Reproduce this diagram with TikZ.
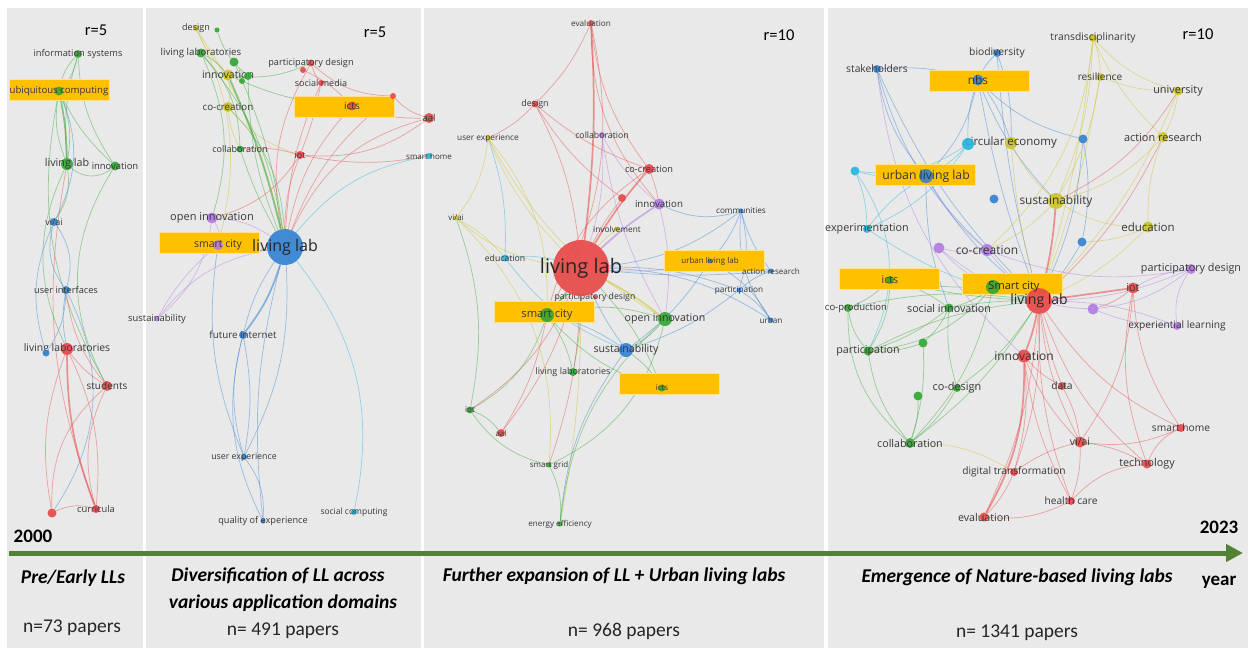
\documentclass[tikz,border=0pt]{standalone}
\usepackage{fontspec}
\setmainfont{Carlito}
\newfontfamily\kwfont{Open Sans}
\usetikzlibrary{arrows.meta}

\definecolor{panelgrey}{RGB}{233,233,233}
\definecolor{hlorange}{RGB}{255,192,0}
\definecolor{hledge}{RGB}{255,226,140}
\definecolor{tlgreen}{RGB}{84,130,53}
\definecolor{kwtext}{RGB}{55,55,55}
\definecolor{vred}{RGB}{232,70,70}
\definecolor{vgreen}{RGB}{50,165,50}
\definecolor{vblue}{RGB}{50,128,210}
\definecolor{vyellow}{RGB}{205,195,35}
\definecolor{vpurple}{RGB}{178,122,225}
\definecolor{vcyan}{RGB}{35,180,222}

\pgfdeclarelayer{panels}
\pgfdeclarelayer{edges}
\pgfdeclarelayer{boxes}
\pgfsetlayers{panels,edges,boxes,main}

\begin{document}
\begin{tikzpicture}[x=1pt, y=-1pt,
    kw/.style={circle, inner sep=0pt, minimum size=#1pt, fill opacity=.9},
    lbl/.style={font=\kwfont\fontsize{#1}{#1}\selectfont, text=kwtext, inner sep=0pt,
      fill=none, draw=none, fill opacity=1},
    kwedge/.style={draw=#1, draw opacity=.45, line width=.7pt},
    kwheavy/.style={draw=#1, draw opacity=.55, line width=1.7pt},
    hlbox/.style={fill=hlorange, draw=hledge, line width=1pt, minimum width=100pt,
      minimum height=21pt, inner sep=0pt},
    heading/.style={font=\bfseries\itshape\fontsize{19.5}{22}\selectfont, inner sep=0pt},
    papers/.style={font=\fontsize{19.5}{22}\selectfont, text=black!85, inner sep=0pt},
    yearlbl/.style={font=\bfseries\fontsize{19}{22}\selectfont, inner sep=0pt},
    rlbl/.style={font=\fontsize{16.5}{19}\selectfont, inner sep=0pt}]
  \useasboundingbox (0,0) rectangle (1258,649);
  % Panels
  \begin{pgfonlayer}{panels}
    \fill[panelgrey] (7,8) rectangle (143,648);
    \fill[panelgrey] (146,8) rectangle (421,648);
    \fill[panelgrey] (424,8) rectangle (824,648);
    \fill[panelgrey] (828,8) rectangle (1248,648);
  \end{pgfonlayer}
  % Highlighted keywords
  \begin{pgfonlayer}{boxes}
    \foreach \nm/\x/\y in {hlubi/59/89.5, hlicts/344.5/107, hlsc/209/243,
        hlulab/714/260.5, hlsc3/544.5/312, hlicts3/669/384,
        hlnbs/979.5/80.5, hlulab4/925.5/175, hlicts4/889/278.5, hlsc4/1012.5/283.5}
      \node[hlbox] (\nm) at (\x,\y) {};
  \end{pgfonlayer}
  % Keywords: name/x/y/size/colour/font/label
  \foreach \nm/\x/\y/\dia/\col/\fs/\txt in {
      p1info/78/54/8/vgreen/9.3/information systems,
      p1ubi/59/91/9/vgreen/9.6/ubiquitous computing,
      p1ll/67/164/12/vgreen/10.8/living lab,
      p1inn/115/166/9/vgreen/9.4/innovation,
      p1viai/54/222/8/vblue/9/vi\slash ai,
      p1ui/66/290/8/vblue/9.2/user interfaces,
      p1llr/67/349/12/vred/10.4/living laboratories,
      p1stu/107/386/10/vred/10/students,
      p1cur/96/509/8/vred/9.3/curricula,
      % 2nd period
      p2des/196/28/6/vyellow/9/design,
      p2lls/201/53/9/vgreen/9.7/living laboratories,
      p2inn/228/75/11/vyellow/10.5/innovation,
      p2pd/311/63/7/vred/9.2/participatory design,
      p2sm/321/83/6/vred/9/social media,
      p2icts/352/106/9/vred/10/icts,
      p2aal/429/118/10/vred/9.5/aal,
      p2sh/429/156/6/vcyan/8/smart home,
      p2cc/228/107/10/vyellow/9.7/co-creation,
      p2col/240/149/7/vgreen/9/collaboration,
      p2iot/300/155/8/vred/9/iot,
      p2oi/212/218/11/vpurple/11/open innovation,
      p2sc/218/245/10/vpurple/10.5/smart city,
      p2sus/157/319/5/vpurple/9.4/sustainability,
      p2fi/243/335/8/vblue/9.8/future internet,
      p2ue/244/457/6/vblue/8.8/user experience,
      p2qoe/263/521/5/vblue/9.2/quality of experience,
      p2scomp/354/512/6/vcyan/8.5/social computing,
      % 3rd period
      p3eval/591/23/6/vred/8.2/evaluation,
      p3des/535/104/7/vred/8.9/design,
      p3ue/488/138/6/vyellow/8.3/user experience,
      p3col/602/135/6/vpurple/8.7/collaboration,
      p3cc/649/169/10/vred/9.2/co-creation,
      p3inn/659/204/11/vpurple/9.7/innovation,
      p3com/741/211/5/vblue/8.2/communities,
      p3viai/456/218/5/vyellow/8/vi\slash ai,
      p3inv/617/229/5/vyellow/8.3/involvement,
      p3edu/505/258/7/vcyan/8.7/education,
      p3ulab/710/261/5/vblue/8/urban living lab,
      p3ar/771/271/5/vblue/8.1/action research,
      p3par/739/290/5/vblue/8.2/participation,
      p3urb/771/320/5/vblue/8.2/urban,
      p3pd/595/297/4/vred/8.7/participatory design,
      p3sc/547/315/14/vgreen/11.2/smart city,
      p3oi/665/319/14/vgreen/10.6/open innovation,
      p3sus/626/350/14/vblue/10.6/sustainability,
      p3lls/573/372/8/vgreen/9/living laboratories,
      p3icts/662/388/7/vgreen/8/icts,
      p3iot/470/410/7/vgreen/8/iot,
      p3aal/501/433/8/vred/8/aal,
      p3sg/549/465/5/vgreen/8/smart grid,
      p3ee/560/524/5/vgreen/8.1/energy efficiency,
      % 4th period
      p4trans/1093/38/8/vyellow/10.3/transdisciplinarity,
      p4bio/997/53/8/vblue/10.3/biodiversity,
      p4stake/877/69/8/vblue/10.3/stakeholders,
      p4nbs/978/80/11/vblue/11.8/nbs,
      p4res/1100/77/8/vyellow/10.1/resilience,
      p4uni/1178/91/9/vyellow/10.9/university,
      p4ar/1163/137/10/vyellow/10.9/action research,
      p4ce/1011/143/12/vyellow/11.5/circular economy,
      p4ulab/926/176/14/vblue/12.2/urban living lab,
      p4sus/1056/201/16/vyellow/11.9/sustainability,
      p4exp/867/229/8/vcyan/10.8/experimentation,
      p4edu/1148/227/11/vyellow/11.5/education,
      p4cc/987/250/12/vpurple/12/co-creation,
      p4icts/890/280/8/vgreen/10.6/icts,
      p4pd/1191/269/10/vpurple/10.8/participatory design,
      p4iot/1133/288/11/vred/10.8/iot,
      p4si/949/308/9/vgreen/10.7/social innovation,
      p4el/1177/326/8/vpurple/10.2/experiential learning,
      p4par/868/351/9/vgreen/10.7/participation,
      p4inn/1024/356/13/vred/12/innovation,
      p4data/1062/386/8/vred/10.3/data,
      p4cod/957/388/8/vgreen/10.9/co-design,
      p4col/910/443/10/vgreen/10.7/collaboration,
      p4viai/1080/442/11/vred/10.5/vi\slash ai,
      p4sh/1181/428/8/vred/10.2/smart home,
      p4tech/1147/464/9/vred/10.8/technology,
      p4dt/1014/472/8/vred/10.2/digital transformation,
      p4hc/1071/501/8/vred/10.2/health care,
      p4eval/984/517/9/vred/10.7/evaluation}
    \node[kw=\dia, fill=\col, label={[lbl=\fs]center:\txt}] (\nm) at (\x,\y) {};
  % Unlabelled keywords
  \foreach \nm/\x/\y/\dia/\col in {p1llb/46/353/7/vblue, p1red/52/513/9/vred,
      p2desg/217/30/5/vgreen, p2g1/234/62/9/vgreen, p2g2/248/76/8/vgreen,
      p2g3/242/81/6/vgreen, p2red1/303/70/6/vred, p2red2/393/96/6/vred,
      p3red1/622/198/8/vred,
      p4b1/1083/139/9/vblue, p4cyan/968/144/12/vcyan, p4c2/855/171/9/vcyan,
      p4b2/994/199/9/vblue, p4b3/1082/242/9/vblue, p4pu1/939/248/11/vpurple,
      p4pu2/1093/309/11/vpurple, p4g1/923/343/9/vgreen, p4g2/918/396/9/vgreen}
    \node[kw=\dia, fill=\col] (\nm) at (\x,\y) {};
  % Central keywords
  \node[kw=36, fill=vblue, label={[lbl=16, text=black!85]center:living lab}] (p2ll) at (285,247) {};
  \node[kw=56, fill=vred, label={[lbl=20, text=black!85]center:living lab}] (p3ll) at (581,268) {};
  \node[kw=26, fill=vred, label={[lbl=14, text=black!85]center:living lab}] (p4ll) at (1039,301) {};
  \node[kw=14, fill=vgreen, label={[lbl=11, text=black!85, xshift=21pt]center:Smart city}] (p4sc) at (993,287) {};
  \node[kw=8, fill=vgreen, label={[lbl=9.5, xshift=8pt]center:co-production}] (p4cop) at (848,308) {};
  % Links
  \begin{pgfonlayer}{edges}
    \foreach \src/\dst/\col/\bd in {
        p1info/p1ubi/vgreen/15, p1info/p1ubi/vgreen/-15, p1info/p1ll/vgreen/-10,
        p1info/p1inn/vgreen/-15, p1ubi/p1ll/vgreen/15, p1ubi/p1ll/vgreen/-15,
        p1ubi/p1inn/vgreen/-10, p1ubi/p1stu/vgreen/-20, p1ll/p1inn/vgreen/-40,
        p1ll/p1viai/vgreen/20, p1ll/p1llr/vgreen/-25, p1ll/p1cur/vred/-15,
        p1inn/p1stu/vgreen/-30, p1ubi/p1viai/vblue/25, p1viai/p1ui/vblue/25,
        p1viai/p1ui/vblue/-25, p1viai/p1llb/vblue/-20, p1ui/p1llb/vblue/15,
        p1ui/p1llr/vblue/-10, p1ui/p1red/vblue/30, p1llr/p1stu/vred/-10,
        p1llr/p1cur/vred/15, p1llr/p1red/vred/-15, p1stu/p1cur/vred/-20,
        p1stu/p1red/vred/-25, p1red/p1cur/vred/20, p1ui/p1stu/vred/-15,
        % 2nd period
        p2ll/p2des/vyellow/-10, p2ll/p2lls/vgreen/-15, p2ll/p2g1/vgreen/-8,
        p2ll/p2g2/vgreen/10, p2ll/p2cc/vgreen/-20, p2ll/p2col/vgreen/5,
        p2ll/p2iot/vred/10, p2ll/p2icts/vred/15, p2ll/p2pd/vred/20,
        p2ll/p2sm/vred/10, p2ll/p2aal/vred/25, p2ll/p2red2/vred/15,
        p2ll/p2sh/vcyan/20, p2ll/p2oi/vpurple/-15, p2ll/p2sus/vpurple/-20,
        p2ll/p2fi/vblue/-10, p2ll/p2ue/vblue/15, p2ll/p2qoe/vblue/-10,
        p2ll/p2scomp/vcyan/25, p2des/p2inn/vyellow/-10, p2lls/p2inn/vgreen/10,
        p2desg/p2g2/vgreen/-15, p2lls/p2col/vgreen/20, p2inn/p2cc/vyellow/10,
        p2inn/p2pd/vgreen/-15, p2inn/p2icts/vgreen/-10, p2cc/p2col/vyellow/-10,
        p2cc/p2iot/vyellow/-15, p2col/p2iot/vred/10, p2pd/p2sm/vred/-10,
        p2pd/p2red2/vred/-20, p2red1/p2icts/vred/10, p2icts/p2aal/vred/-10,
        p2red2/p2aal/vred/-15, p2iot/p2aal/vred/-20, p2sm/p2iot/vred/5,
        p2iot/p2sh/vred/-10, p2oi/p2sc/vpurple/20, p2oi/p2sus/vpurple/20,
        p2sc/p2sus/vpurple/-10, p2oi/p2lls/vgreen/-20, p2oi/p2iot/vred/-20,
        p2fi/p2ue/vblue/10, p2fi/p2ue/vblue/-15, p2fi/p2qoe/vblue/-20,
        p2ue/p2qoe/vblue/20, p2sc/p2ue/vblue/-15, p2des/p2sc/vyellow/20,
        % 3rd period
        p3ll/p3des/vred/-10, p3ll/p3ue/vyellow/10, p3ll/p3col/vpurple/-10,
        p3ll/p3red1/vred/5, p3ll/p3com/vblue/-15, p3ll/p3viai/vyellow/15,
        p3ll/p3inv/vyellow/5, p3ll/p3edu/vcyan/-10, p3ll/p3ulab/vpurple/-8,
        p3ll/p3ar/vblue/-5, p3ll/p3par/vblue/10, p3ll/p3urb/vblue/15,
        p3ll/p3sus/vblue/-5, p3ll/p3lls/vgreen/5, p3ll/p3icts/vgreen/10,
        p3ll/p3iot/vred/15, p3ll/p3aal/vred/10, p3ll/p3sg/vred/8,
        p3ll/p3ee/vyellow/5, p3eval/p3des/vred/10, p3eval/p3cc/vred/-15,
        p3eval/p3sc/vred/20, p3eval/p3inn/vred/-20, p3des/p3cc/vred/-10,
        p3des/p3ue/vred/10, p3des/p3red1/vred/-10, p3ue/p3viai/vyellow/15,
        p3ue/p3sc/vyellow/20, p3ue/p3edu/vcyan/10, p3ue/p3oi/vyellow/-15,
        p3col/p3inn/vpurple/-10, p3col/p3oi/vpurple/-10, p3cc/p3inn/vred/5,
        p3cc/p3sc/vred/-20, p3inn/p3com/vblue/-20, p3inn/p3oi/vpurple/10,
        p3com/p3ulab/vblue/10, p3com/p3par/vblue/15, p3com/p3urb/vblue/-20,
        p3com/p3ar/vblue/-10, p3ulab/p3ar/vblue/10, p3ulab/p3urb/vblue/15,
        p3ar/p3par/vblue/-10, p3par/p3urb/vblue/10, p3sus/p3ulab/vblue/-10,
        p3sus/p3par/vblue/-10, p3sus/p3icts/vgreen/10, p3sus/p3ee/vblue/-15,
        p3oi/p3sus/vgreen/10, p3oi/p3sc/vgreen/-15, p3sc/p3iot/vgreen/20,
        p3sc/p3lls/vgreen/10, p3sc/p3icts/vgreen/-15, p3sc/p3sus/vblue/10,
        p3iot/p3aal/vgreen/15, p3iot/p3sg/vgreen/-20, p3iot/p3viai/vgreen/-15,
        p3sg/p3ee/vgreen/15, p3sg/p3oi/vgreen/-25, p3ee/p3oi/vgreen/20,
        p3aal/p3sc/vred/-10, p3viai/p3edu/vyellow/10, p3edu/p3sus/vcyan/-15,
        p3viai/p3sg/vyellow/25,
        % 4th period
        p4ll/p4trans/vyellow/-5, p4ll/p4bio/vblue/5, p4ll/p4stake/vblue/10,
        p4ll/p4nbs/vblue/5, p4ll/p4res/vyellow/-5, p4ll/p4uni/vyellow/-10,
        p4ll/p4ar/vred/-10, p4ll/p4ce/vyellow/5, p4ll/p4ulab/vblue/10,
        p4ll/p4exp/vcyan/10, p4ll/p4edu/vyellow/-10, p4ll/p4cc/vpurple/5,
        p4ll/p4icts/vgreen/5, p4ll/p4pd/vpurple/-10, p4ll/p4cop/vgreen/-10,
        p4ll/p4si/vgreen/-5, p4ll/p4el/vpurple/10, p4ll/p4par/vgreen/-10,
        p4ll/p4data/vred/-5, p4ll/p4cod/vgreen/10, p4ll/p4col/vgreen/10,
        p4ll/p4viai/vred/-10, p4ll/p4sh/vred/-15, p4ll/p4tech/vred/-15,
        p4ll/p4dt/vred/10, p4ll/p4hc/vred/-10, p4ll/p4eval/vred/10,
        p4ll/p4b1/vblue/-10, p4ll/p4pu1/vpurple/10, p4ll/p4pu2/vpurple/-5,
        p4ll/p4b3/vblue/-5, p4stake/p4nbs/vblue/10, p4stake/p4ulab/vblue/-15,
        p4stake/p4cc/vblue/-15, p4stake/p4inn/vpurple/-20, p4bio/p4nbs/vblue/-10,
        p4bio/p4ce/vblue/10, p4nbs/p4ce/vblue/10, p4nbs/p4ulab/vblue/15,
        p4nbs/p4cyan/vblue/-10, p4nbs/p4sus/vblue/-10, p4nbs/p4b1/vblue/-15,
        p4trans/p4res/vyellow/10, p4trans/p4uni/vyellow/-15, p4trans/p4sus/vyellow/10,
        p4trans/p4ar/vyellow/-10, p4trans/p4cc/vyellow/20, p4res/p4sus/vyellow/10,
        p4res/p4uni/vyellow/-10, p4uni/p4ar/vyellow/10, p4uni/p4sus/vred/15,
        p4ar/p4sus/vyellow/15, p4ar/p4edu/vyellow/-10, p4ce/p4sus/vyellow/-10,
        p4cyan/p4ulab/vcyan/10, p4cyan/p4c2/vcyan/20, p4cyan/p4exp/vcyan/15,
        p4c2/p4ulab/vcyan/-10, p4c2/p4exp/vcyan/10, p4c2/p4par/vcyan/30,
        p4ulab/p4exp/vcyan/-10, p4ulab/p4cc/vpurple/-10, p4ulab/p4si/vblue/-10,
        p4sus/p4edu/vyellow/-15, p4sus/p4cc/vyellow/10, p4b1/p4b3/vblue/10,
        p4b3/p4edu/vyellow/-10, p4cc/p4pu1/vpurple/10, p4cc/p4pd/vpurple/-15,
        p4pu1/p4sc/vpurple/-10, p4pd/p4el/vpurple/-20, p4pd/p4iot/vpurple/-10,
        p4pd/p4pu2/vpurple/15, p4el/p4pu2/vpurple/10, p4iot/p4pu2/vred/10,
        p4icts/p4cop/vgreen/10, p4icts/p4par/vgreen/15, p4icts/p4sc/vgreen/-5,
        p4icts/p4si/vgreen/10, p4cop/p4par/vgreen/-15, p4cop/p4col/vgreen/-25,
        p4si/p4par/vgreen/10, p4si/p4g1/vgreen/10, p4si/p4cod/vgreen/-10,
        p4par/p4g1/vgreen/-10, p4par/p4col/vgreen/-15, p4g1/p4col/vgreen/10,
        p4g2/p4col/vgreen/10, p4cod/p4col/vgreen/10, p4sc/p4col/vgreen/15,
        p4sc/p4si/vgreen/10, p4sc/p4par/vgreen/20, p4col/p4dt/vyellow/15,
        p4inn/p4dt/vred/10, p4inn/p4viai/vred/-10, p4inn/p4data/vred/-10,
        p4inn/p4hc/vred/-10, p4data/p4viai/vred/10, p4viai/p4sh/vred/-15,
        p4viai/p4tech/vred/10, p4viai/p4hc/vred/10, p4viai/p4dt/vred/-10,
        p4sh/p4tech/vred/-20, p4tech/p4hc/vred/-20, p4dt/p4eval/vred/10,
        p4eval/p4hc/vred/-15, p4iot/p4sh/vred/-15, p4iot/p4tech/vred/-15,
        p4iot/p4viai/vred/15}
      \draw[kwedge=\col] (\src) to[bend left=\bd] (\dst);
    % Strong links
    \foreach \src/\dst/\col/\bd in {p1ubi/p1ll/vgreen/5, p1llr/p1cur/vred/-10,
        p2ll/p2fi/vblue/10, p2ll/p2inn/vgreen/-5, p2ll/p2sc/vpurple/10,
        p3ll/p3eval/vred/-5, p3ll/p3cc/vred/5, p3ll/p3inn/vpurple/5,
        p3ll/p3sc/vgreen/5, p3ll/p3oi/vyellow/5,
        p4ll/p4sus/vred/-5, p4ll/p4sc/vgreen/0, p4ll/p4iot/vred/0,
        p4ll/p4inn/vred/5, p4inn/p4eval/vred/15}
      \draw[kwheavy=\col] (\src) to[bend left=\bd] (\dst);
  \end{pgfonlayer}
  % Thresholds
  \node[rlbl] (r1) at (96,30) {r=5};
  \node[rlbl] (r2) at (375,32) {r=5};
  \node[rlbl] (r3) at (779,35) {r=10};
  \node[rlbl] (r4) at (1198,34) {r=10};
  % Time line
  \coordinate (tl0) at (9,553);
  \coordinate (tl1) at (1243,553);
  \draw[tlgreen, line width=5pt, -{Triangle[length=17pt, width=17pt]}] (tl0) -- (tl1);
  \node[yearlbl] (y2000) at (33,536) {2000};
  \node[yearlbl] (y2023) at (1219,527) {2023};
  \node[yearlbl] (year) at (1219,582) {year};
  % Periods
  \node[heading] (h1) at (73,578) {Pre/Early LLs};
  \node[papers] (n1) at (72,628) {n=73 papers};
  \node[heading] (h2a) at (278,576) {Diversification of LL across};
  \node[heading] (h2b) at (283,603) {various application domains};
  \node[papers] (n2) at (283,631) {n= 491 papers};
  \node[heading] (h3) at (614,576) {Further expansion of LL + Urban living labs};
  \node[papers] (n3) at (624,631) {n= 968 papers};
  \node[heading] (h4) at (1017,577) {Emergence of Nature-based living labs};
  \node[papers] (n4) at (1017,633) {n= 1341 papers};
\end{tikzpicture}
\end{document}
